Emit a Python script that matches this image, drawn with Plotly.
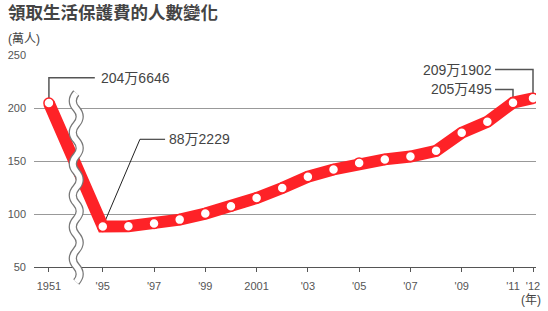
import plotly.graph_objects as go

# ---- data ----
years = [1951, 1995, 1996, 1997, 1998, 1999, 2000, 2001, 2002, 2003, 2004,
         2005, 2006, 2007, 2008, 2009, 2010, 2011, 2012]
recipients = [204.6646, 88.2229, 88.5, 91.0, 94.7, 100.4, 107.3, 115.1, 124.5, 135.2, 142.0,
              148.2, 151.5, 154.2, 159.6, 176.6, 187.0, 205.0495, 209.1902]
tick_years = [1951, 1995, 1997, 1999, 2001, 2003, 2005, 2007, 2009, 2011, 2012]
tick_text = ["1951", "'95", "'97", "'99", "2001", "'03", "'05", "'07", "'09", "'11", "'12"]
y_ticks = [50, 100, 150, 200, 250]

# position of each year on the (broken) axis
def axis_pos(yr):
    if yr == 1951:
        return 1992.9
    if yr == 2012:
        return 2011.78
    return float(yr)

xpos = [axis_pos(y) for y in years]
RED = "#fe2227"
GRAY = "#555555"
W, H = 548, 311
ML, MR, MT, MB = 29, 8, 55, 44
X0, X1 = 1992.318, 2011.897

def px_paper_x(px):
    return (px - ML) / (W - ML - MR)

def px_paper_y(py):
    return (H - MB - py) / (H - MT - MB)

fig = go.Figure()
fig.add_trace(go.Scatter(
    x=xpos, y=recipients, mode="lines+markers",
    line=dict(color=RED, width=12),
    marker=dict(size=10, color="white", line=dict(color=RED, width=1.5)),
    hoverinfo="skip", showlegend=False))

shapes = []
# connectors
def conn(points, color=GRAY, width=1.5):
    d = "M " + " L ".join(f"{x},{y}" for x, y in points)
    shapes.append(dict(type="path", path=d, xref="x", yref="y",
                       line=dict(color=color, width=width), layer="between"))

p1951 = (xpos[0], recipients[0])
p1995 = (xpos[1], recipients[1])
p2011 = (xpos[-2], recipients[-2])
p2012 = (xpos[-1], recipients[-1])
conn([p1951, (p1951[0], 228.5), (1994.69, 228.5)])
conn([p1995, (1996.45, 170.5), (1997.43, 170.5)], color="#222222", width=1)
conn([p2012, (p2012[0], 236.3), (2010.3, 236.3)])
conn([p2011, (p2011[0], 217.5), (2010.3, 217.5)])

# axis break (double wavy line)
cx, top, bot, half, amp = 72.0, 93.0, 282.0, 15.75, 7.0
d = f"M {px_paper_x(cx)},{px_paper_y(top)}"
yy = top
sgn = -1
while yy + half <= bot + 0.1:
    d += f" Q {px_paper_x(cx + sgn * amp)},{px_paper_y(yy + half / 2)} {px_paper_x(cx)},{px_paper_y(yy + half)}"
    yy += half
    sgn = -sgn
shapes.append(dict(type="path", path=d, xref="paper", yref="paper",
                   line=dict(color="#777777", width=8), layer="above"))
shapes.append(dict(type="path", path=d, xref="paper", yref="paper",
                   line=dict(color="white", width=5.6), layer="above"))

LBL = dict(family="Liberation Sans, Arial, Noto Sans CJK JP", size=14, color="#444444")
annotations = [
    dict(x=1994.85, y=228.5, xref="x", yref="y", text="204万6646", showarrow=False,
         xanchor="left", yanchor="middle", font=LBL),
    dict(x=1997.5, y=170.5, xref="x", yref="y", text="88万2229", showarrow=False,
         xanchor="left", yanchor="middle", font=LBL),
    dict(x=2010.25, y=236.3, xref="x", yref="y", text="209万1902", showarrow=False,
         xanchor="right", yanchor="middle", font=LBL),
    dict(x=2010.25, y=217.5, xref="x", yref="y", text="205万495", showarrow=False,
         xanchor="right", yanchor="middle", font=LBL),
    dict(x=px_paper_x(0), y=px_paper_y(11.5), xref="paper", yref="paper",
         text="<b>領取生活保護費的人數變化</b>", showarrow=False, xanchor="left", yanchor="middle",
         font=dict(family="Noto Sans CJK TC", size=17.5, color="#444444")),
    dict(x=px_paper_x(1), y=px_paper_y(39), xref="paper", yref="paper",
         text="(萬人)", showarrow=False, xanchor="left", yanchor="middle",
         font=dict(family="Liberation Sans, Noto Sans CJK TC", size=12, color="#444444")),
    dict(x=px_paper_x(547), y=px_paper_y(300), xref="paper", yref="paper",
         text="(年)", showarrow=False, xanchor="right", yanchor="middle",
         font=dict(family="Liberation Sans, Noto Sans CJK TC", size=12, color="#444444")),
]

fig.update_layout(
    width=W, height=H, margin=dict(l=ML, r=MR, t=MT, b=MB),
    paper_bgcolor="white", plot_bgcolor="white",
    shapes=shapes, annotations=annotations,
    xaxis=dict(range=[X0, X1], tickvals=[axis_pos(y) for y in tick_years], ticktext=tick_text,
               showgrid=False, zeroline=False, showline=True, linecolor=GRAY, linewidth=1,
               ticks="outside", ticklen=4, tickcolor=GRAY, tickwidth=1,
               ticklabelstandoff=5,
               tickfont=dict(family="Liberation Sans, Arial", size=11, color="#555555")),
    yaxis=dict(range=[50, 250], tickvals=y_ticks, showgrid=True, gridcolor="#999999",
               gridwidth=1, zeroline=False, showline=False, ticks="",
               ticklabelstandoff=7,
               tickfont=dict(family="Liberation Sans, Arial", size=11, color="#555555")),
)
fig.write_html("out.html")
